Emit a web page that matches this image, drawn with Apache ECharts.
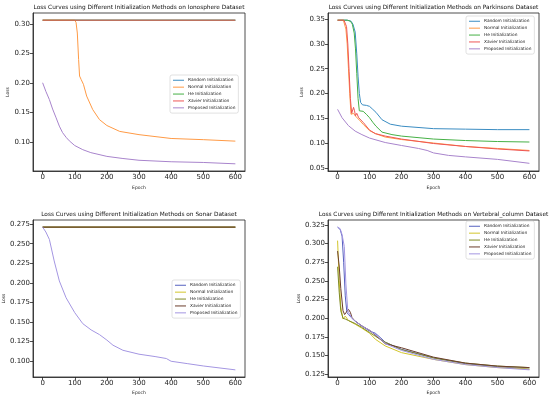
<!DOCTYPE html>
<html><head><meta charset="utf-8">
<script src="https://cdn.jsdelivr.net/npm/echarts@6/dist/echarts.min.js"></script>
<style>html,body{margin:0;padding:0;background:#fff}#c{width:550px;height:397px}</style>
</head><body><div id="c"></div>
<script>
const seriesNames = ["Random Initialization","Normal Initialization","He Initialization","Xavier Initialization","Proposed Initialization"];
const titles = [
 "Loss Curves using Different Initialization Methods on Ionosphere Dataset",
 "Loss Curves using Different Initialization Methods on Parkinsons Dataset",
 "Loss Curves using Different Initialization Methods on Sonar Dataset",
 "Loss Curves using Different Initialization Methods on Vertebral_column Dataset"];
const xTicks = [0,100,200,300,400,500,600];
const yTicksIono = [0.10,0.15,0.20,0.25,0.30];
const yTicksPark = [0.05,0.10,0.15,0.20,0.25,0.30,0.35];
const yTicksSonar = [0.100,0.125,0.150,0.175,0.200,0.225,0.250,0.275];
const yTicksVert = [0.125,0.150,0.175,0.200,0.225,0.250,0.275,0.300,0.325];

// Ionosphere
const ionoRandomX=[0,600], ionoRandomY=[0.3068,0.3068];
const ionoNormalX=[0,100,104,108,112,115,120,127,137,156,177,200,240,300,400,500,600];
const ionoNormalY=[0.3068,0.3068,0.303,0.285,0.24,0.212,0.206,0.198,0.178,0.155,0.138,0.128,0.118,0.1125,0.106,0.104,0.1015];
const ionoHeX=[0,600], ionoHeY=[0.3068,0.3068];
const ionoXavierX=[0,600], ionoXavierY=[0.3068,0.3068];
const ionoPropX=[0,10,21,31,42,52,62,73,83,100,125,150,200,250,300,400,500,600];
const ionoPropY=[0.2006,0.186,0.172,0.156,0.141,0.127,0.116,0.108,0.102,0.094,0.087,0.082,0.0756,0.072,0.069,0.0665,0.0653,0.063];

// Parkinsons
const parkRandomX=[0,30,42,48,55,60,64,68,72,78,90,100,110,120,139,165,200,300,400,500,600];
const parkRandomY=[0.348,0.348,0.346,0.340,0.324,0.28,0.235,0.2,0.182,0.177,0.176,0.174,0.168,0.162,0.147,0.138,0.134,0.129,0.128,0.127,0.127];
const parkNormalX=[0,18,22,26,30,34,38,42,46,50,55,60,70,81,100,118,149,200,300,400,500,600];
const parkNormalY=[0.348,0.348,0.344,0.33,0.30,0.25,0.20,0.158,0.162,0.16,0.155,0.151,0.145,0.137,0.125,0.119,0.112,0.107,0.100,0.093,0.089,0.085];
const parkHeX=[0,30,40,46,52,56,60,64,68,74,80,90,100,110,120,139,170,200,300,400,500,600];
const parkHeY=[0.348,0.348,0.346,0.34,0.322,0.29,0.24,0.19,0.165,0.166,0.164,0.158,0.151,0.142,0.134,0.122,0.117,0.114,0.108,0.105,0.103,0.102];
const parkXavierX=[0,20,24,28,32,36,40,44,47,50,53,56,60,66,81,100,118,149,200,300,400,500,600];
const parkXavierY=[0.348,0.348,0.345,0.335,0.30,0.245,0.19,0.16,0.158,0.172,0.165,0.155,0.16,0.151,0.141,0.126,0.119,0.114,0.108,0.099,0.093,0.088,0.084];
const parkPropX=[0,14,34,55,76,100,149,200,253,280,300,347,400,500,600];
const parkPropY=[0.168,0.151,0.135,0.124,0.117,0.110,0.101,0.095,0.089,0.085,0.080,0.075,0.072,0.067,0.059];

// Sonar
const sonarRandomX=[0,600], sonarRandomY=[0.2712,0.2712];
const sonarNormalX=[0,600], sonarNormalY=[0.2712,0.2712];
const sonarHeX=[0,600], sonarHeY=[0.2712,0.2712];
const sonarXavierX=[0,600], sonarXavierY=[0.2712,0.2712];
const sonarPropX=[0,5,10,21,36,52,73,100,125,151,177,200,219,250,300,350,385,400,450,500,600];
const sonarPropY=[0.2712,0.269,0.265,0.2555,0.228,0.2025,0.181,0.162,0.148,0.140,0.134,0.127,0.1205,0.114,0.109,0.106,0.1035,0.100,0.097,0.094,0.089];

// Vertebral column
const vertRandomX=[0,8,14,19,24,29,34,40,50,75,100,118,133,149,200,300,400,500,600];
const vertRandomY=[0.322,0.319,0.31,0.275,0.23,0.208,0.205,0.203,0.198,0.19,0.183,0.180,0.1745,0.168,0.1585,0.147,0.139,0.135,0.132];
const vertNormalX=[0,5,10,17,24,34,55,75,100,118,149,200,300,400,500,600];
const vertNormalY=[0.304,0.251,0.215,0.199,0.203,0.197,0.192,0.187,0.180,0.172,0.163,0.154,0.145,0.138,0.134,0.132];
const vertHeX=[0,5,10,17,24,34,55,75,100,118,149,200,300,400,500,600];
const vertHeY=[0.269,0.235,0.21,0.2,0.199,0.197,0.193,0.188,0.181,0.176,0.168,0.158,0.147,0.140,0.136,0.134];
const vertXavierX=[0,5,10,17,22,27,34,40,45,55,75,100,125,149,200,300,400,500,600];
const vertXavierY=[0.29,0.27,0.24,0.21,0.205,0.208,0.212,0.208,0.201,0.196,0.19,0.184,0.175,0.166,0.1605,0.148,0.14,0.136,0.134];
const vertPropX=[0,8,14,21,26,32,38,45,55,75,100,125,149,200,300,400,500,600];
const vertPropY=[0.322,0.320,0.312,0.296,0.246,0.21,0.208,0.2,0.196,0.19,0.184,0.176,0.166,0.157,0.145,0.138,0.134,0.131];

const topColors = ["#3a8cc2","#ff9a45","#45b045","#ee5555","#a884cc"];
const botColors = ["#5560bf","#d2c52a","#7f8a25","#6b3d2b","#a496e2"];

const panels = [
 {grid:{left:33,top:13,width:212,height:158}, ymin:0.0508, ymax:0.3190, yt:yTicksIono, dec:2, colors:topColors, nameGap:23, xNameGap:14,
  legend:{left:170,top:75}, data:[[ionoRandomX,ionoRandomY],[ionoNormalX,ionoNormalY],[ionoHeX,ionoHeY],[ionoXavierX,ionoXavierY],[ionoPropX,ionoPropY]]},
 {grid:{left:328,top:13,width:211,height:158}, ymin:0.0435, ymax:0.3625, yt:yTicksPark, dec:2, colors:topColors, nameGap:24, xNameGap:14,
  legend:{left:466,top:16}, data:[[parkRandomX,parkRandomY],[parkNormalX,parkNormalY],[parkHeX,parkHeY],[parkXavierX,parkXavierY],[parkPropX,parkPropY]]},
 {grid:{left:33,top:220,width:212,height:157}, ymin:0.0799, ymax:0.2803, yt:yTicksSonar, dec:3, colors:botColors, nameGap:27, xNameGap:13,
  legend:{left:172,top:280}, data:[[sonarRandomX,sonarRandomY],[sonarNormalX,sonarNormalY],[sonarHeX,sonarHeY],[sonarXavierX,sonarXavierY],[sonarPropX,sonarPropY]]},
 {grid:{left:328,top:220,width:211,height:157}, ymin:0.1214, ymax:0.3316, yt:yTicksVert, dec:3, colors:botColors, nameGap:27, xNameGap:13,
  legend:{left:466,top:221}, data:[[vertRandomX,vertRandomY],[vertNormalX,vertNormalY],[vertHeX,vertHeY],[vertXavierX,vertXavierY],[vertPropX,vertPropY]]}
];

const FONT = "DejaVu Sans";
const option = {animation:false, textStyle:{fontFamily:FONT}, grid:[], xAxis:[], yAxis:[], series:[], legend:[], graphic:[]};
panels.forEach((p,i)=>{
  option.grid.push(Object.assign({show:true, borderColor:'#222', borderWidth:0.8, backgroundColor:'transparent'}, p.grid));
  option.graphic.push({type:'text', x:p.grid.left+p.grid.width/2, y:p.grid.top-6, silent:true,
    style:{text:titles[i], align:'center', verticalAlign:'middle', font:'5.8px "DejaVu Sans"', fill:'#111'}});
  option.xAxis.push({type:'value', gridIndex:i, min:-30, max:630, name:'Epoch', nameLocation:'middle', nameGap:p.xNameGap,
    nameTextStyle:{fontSize:4.5, color:'#222', fontFamily:FONT},
    axisLine:{show:true, onZero:false, lineStyle:{color:'#222', width:0.8}},
    axisTick:{show:true, length:3, customValues:xTicks, lineStyle:{color:'#222', width:0.8}},
    axisLabel:{customValues:xTicks, fontSize:7, color:'#222', margin:3, fontFamily:FONT},
    splitLine:{show:false}});
  option.yAxis.push({type:'value', gridIndex:i, min:p.ymin, max:p.ymax, name:'Loss', nameLocation:'middle', nameGap:p.nameGap,
    nameTextStyle:{fontSize:4.5, color:'#222', fontFamily:FONT},
    axisLine:{show:true, onZero:false, lineStyle:{color:'#222', width:0.8}},
    axisTick:{show:true, length:3, customValues:p.yt, lineStyle:{color:'#222', width:0.8}},
    axisLabel:{customValues:p.yt, fontSize:7, color:'#222', margin:3, fontFamily:FONT, formatter:v=>v.toFixed(p.dec)},
    splitLine:{show:false}});
  const ld = [];
  p.data.forEach((d,k)=>{
    option.series.push({type:'line', name:seriesNames[k], xAxisIndex:i, yAxisIndex:i, symbol:'none', showSymbol:false,
      data:d[0].map((x,j)=>[x,d[1][j]]), lineStyle:{color:p.colors[k], width:1}, itemStyle:{color:p.colors[k]}});
    ld.push({name:seriesNames[k], icon:'rect', itemStyle:{color:p.colors[k], borderWidth:0}});
  });
  option.legend.push({orient:'vertical', left:p.legend.left, top:p.legend.top, data:ld, icon:'rect', itemWidth:11, itemHeight:1,
    itemGap:2.4, padding:[3,3,3,3], borderColor:'#ccc', borderWidth:0.6, borderRadius:2, backgroundColor:'#fff',
    itemStyle:{borderWidth:0},
    textStyle:{fontSize:4.3, lineHeight:4.5, color:'#222', fontFamily:FONT, padding:[0,0,0,-1]}, selectedMode:false});
});
const chart = echarts.init(document.getElementById('c'));
chart.setOption(option);
</script></body></html>
